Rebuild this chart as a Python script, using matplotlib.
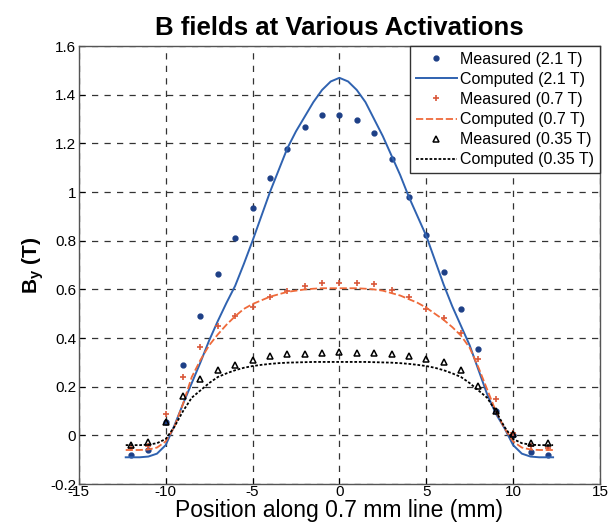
import numpy as np
import matplotlib.pyplot as plt

plt.rcParams['font.family'] = ['Liberation Sans', 'DejaVu Sans']
plt.rcParams['mathtext.fontset'] = 'custom'
plt.rcParams['mathtext.rm'] = 'Liberation Sans'
plt.rcParams['mathtext.bf'] = 'Liberation Sans:bold'
plt.rcParams['axes.unicode_minus'] = False

# measured points (mm, T)
pos_meas = [-12, -11, -10, -9, -8, -7, -6, -5, -4, -3, -2, -1, 0,
            1, 2, 3, 4, 5, 6, 7, 8, 9, 10, 11, 12]
meas_21 = [-0.080, -0.062, 0.055, 0.29, 0.49, 0.664, 0.813, 0.936, 1.057, 1.177, 1.268, 1.317, 1.317,
           1.296, 1.242, 1.136, 0.982, 0.823, 0.673, 0.52, 0.354, 0.10, 0.0, -0.068, -0.082]
meas_07 = [-0.05, -0.045, 0.089, 0.24, 0.365, 0.45, 0.49, 0.528, 0.567, 0.592, 0.614, 0.626, 0.628,
           0.628, 0.621, 0.597, 0.567, 0.52, 0.482, 0.42, 0.316, 0.15, 0.01, -0.045, -0.05]
meas_035 = [-0.04, -0.028, 0.055, 0.163, 0.23, 0.27, 0.29, 0.309, 0.327, 0.333, 0.336, 0.337, 0.344,
            0.34, 0.337, 0.333, 0.327, 0.313, 0.30, 0.27, 0.204, 0.10, 0.007, -0.03, -0.03]

pos_comp = [-12.3, -12, -11.5, -11, -10.5, -10, -9.5, -9, -8.5, -8, -7.5, -7, -6.5, -6, -5.5, -5,
            -4.5, -4, -3.5, -3, -2.5, -2, -1.5, -1, -0.5, 0, 0.5, 1, 1.5, 2, 2.5, 3, 3.5, 4, 4.5,
            5, 5.5, 6, 6.5, 7, 7.5, 8, 8.5, 9, 9.5, 10, 10.5, 11, 11.5, 12, 12.3]
comp_21 = [-0.09, -0.09, -0.09, -0.087, -0.075, -0.04, 0.04, 0.13, 0.215, 0.30, 0.39, 0.47, 0.545,
           0.615, 0.705, 0.80, 0.90, 1.00, 1.09, 1.18, 1.25, 1.31, 1.37, 1.42, 1.455, 1.47, 1.455,
           1.42, 1.37, 1.30, 1.23, 1.15, 1.07, 0.98, 0.90, 0.82, 0.72, 0.62, 0.53, 0.45, 0.37, 0.27,
           0.17, 0.09, 0.03, -0.04, -0.075, -0.087, -0.09, -0.09, -0.09]
comp_07 = [-0.06, -0.06, -0.06, -0.058, -0.05, -0.025, 0.035, 0.13, 0.24, 0.31, 0.37, 0.415, 0.455,
           0.49, 0.52, 0.54, 0.555, 0.57, 0.58, 0.59, 0.595, 0.60, 0.603, 0.605, 0.605, 0.605, 0.605,
           0.605, 0.603, 0.60, 0.595, 0.585, 0.575, 0.56, 0.545, 0.525, 0.50, 0.475, 0.445, 0.41,
           0.36, 0.28, 0.19, 0.10, 0.03, -0.025, -0.05, -0.058, -0.06, -0.06, -0.06]
comp_035 = [-0.04, -0.04, -0.04, -0.038, -0.032, -0.015, 0.035, 0.10, 0.155, 0.185, 0.215, 0.24,
            0.255, 0.268, 0.278, 0.285, 0.29, 0.294, 0.297, 0.299, 0.30, 0.301, 0.302, 0.302, 0.302,
            0.302, 0.302, 0.302, 0.302, 0.301, 0.30, 0.299, 0.297, 0.294, 0.29, 0.285, 0.278, 0.268,
            0.255, 0.24, 0.215, 0.185, 0.155, 0.10, 0.035, -0.015, -0.032, -0.038, -0.04, -0.04, -0.04]

fig = plt.figure(figsize=(6.11, 5.25), dpi=100)
ax = fig.add_axes([0.129, 0.078, 0.853, 0.834])

ax.plot(pos_meas, meas_21, 'o', color='#1d3f86', ms=3.5, label='Measured (2.1 T)')
ax.plot(pos_comp, comp_21, '-', color='#2f62b0', lw=1.4, label='Computed (2.1 T)')
ax.plot(pos_meas, meas_07, '+', color='#d9583a', ms=5, mew=1.2, label='Measured (0.7 T)')
ax.plot(pos_comp, comp_07, color='#ef6a3a', lw=1.3, ls=(0, (4, 1.5)), label='Computed (0.7 T)')
ax.plot(pos_meas, meas_035, '^', mfc='none', mec='black', ms=5, mew=1.1, label='Measured (0.35 T)')
ax.plot(pos_comp, comp_035, color='black', lw=1.3, ls=(0, (1.5, 1)), label='Computed (0.35 T)')

ax.set_xlim(-15, 15)
ax.set_ylim(-0.2, 1.6)
ax.set_xticks([-15, -10, -5, 0, 5, 10, 15])
ax.set_yticks(np.arange(-0.2, 1.61, 0.2))
ax.set_yticklabels(['-0.2', '0', '0.2', '0.4', '0.6', '0.8', '1', '1.2', '1.4', '1.6'])
ax.tick_params(direction='in', labelsize=11, length=4, width=0.8, pad=2)
ax.tick_params(axis='x', pad=1)
ax.grid(True, color='#333333', ls=(0, (5, 5)), lw=0.9)
for sp in ax.spines.values():
    sp.set_color('#555555')
    sp.set_linewidth(1.0)

ax.set_title('B fields at Various Activations', fontsize=18.5, fontweight='bold', pad=8)
ax.set_xlabel('Position along 0.7 mm line (mm)', fontsize=16.5, labelpad=0)
ax.set_ylabel(r'B$_\mathbf{y}$ (T)', fontsize=15, fontweight='bold', labelpad=3)

leg = ax.legend(loc='upper right', fontsize=11.5, borderaxespad=0, handlelength=2.6,
                handletextpad=0.2, labelspacing=0.32, borderpad=0.35, fancybox=False,
                framealpha=1, edgecolor='#333333')
leg.get_frame().set_linewidth(1.0)

fig.savefig('out.png', dpi=100)
